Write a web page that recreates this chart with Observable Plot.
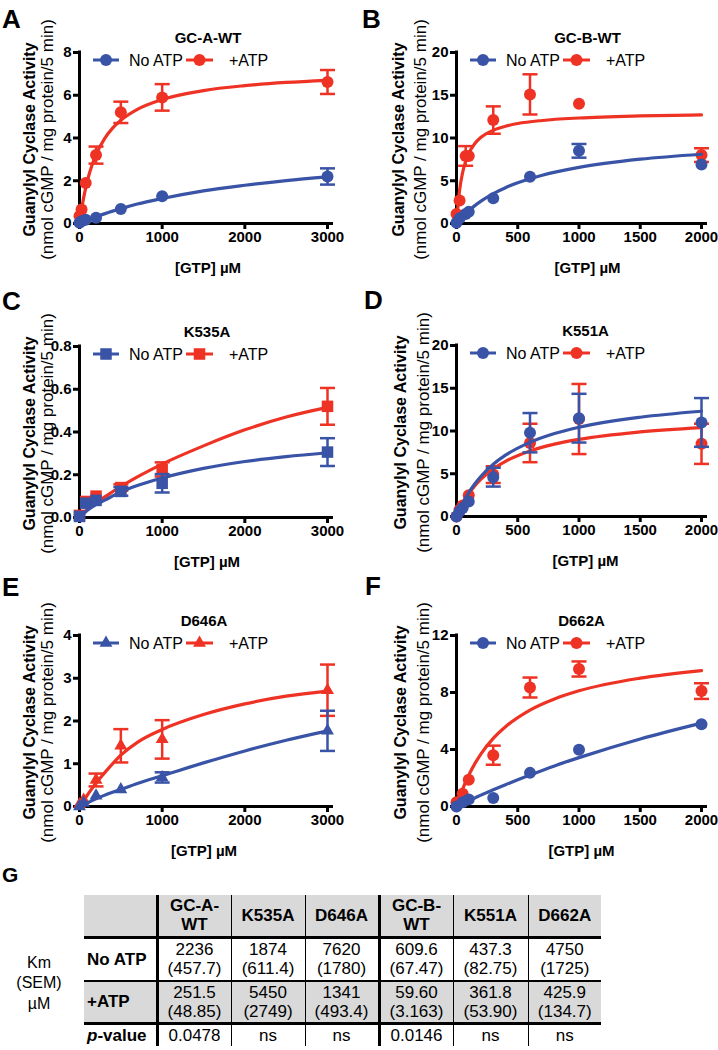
<!DOCTYPE html>
<html><head><meta charset="utf-8">
<script src="https://cdn.jsdelivr.net/npm/d3@7"></script>
<script src="https://cdn.jsdelivr.net/npm/@observablehq/plot@0.6"></script>
<style>
body{margin:0;background:#fff;}
#root{position:relative;width:718px;height:1050px;overflow:hidden;font-family:"Liberation Sans",Arial,Helvetica,sans-serif;background:#fff;}
.panel{position:absolute;}
.panel svg{overflow:visible;}
#tbl{position:absolute;left:84px;top:895px;border-collapse:collapse;table-layout:fixed;font-family:"Liberation Sans",Arial,sans-serif;font-size:17px;color:#000;}
#tbl td{padding:0;text-align:center;vertical-align:middle;line-height:19px;box-sizing:border-box;white-space:nowrap;}
</style></head><body><div id="root"></div>
<script>
const BLUE = "#3953a6", RED = "#ee3224";

// ---------- Panel A: GC-A-WT ----------
const A_x = [0, 25, 75, 200, 500, 1000, 3000];
const A_noATP = [0.03, 0.1, 0.18, 0.27, 0.68, 1.27, 2.2];
const A_noATP_sem = [0, 0, 0, 0, 0, 0, 0.38];
const A_ATP = [0.35, 0.65, 1.9, 3.2, 5.2, 5.9, 6.62];
const A_ATP_sem = [0, 0, 0, 0.4, 0.5, 0.62, 0.56];
const A_fitX = [0, 25, 50, 100, 150, 200, 300, 400, 500, 700, 1000, 1500, 2000, 2500, 3000];
const A_fitNoATP = [0, 0.04, 0.08, 0.16, 0.24, 0.31, 0.45, 0.58, 0.69, 0.91, 1.17, 1.53, 1.79, 2.01, 2.18];
const A_fitATP = [0, 0.66, 1.20, 2.07, 2.71, 3.22, 3.95, 4.46, 4.83, 5.34, 5.80, 6.22, 6.45, 6.60, 6.70];

// ---------- Panel B: GC-B-WT ----------
const B_x = [0, 25, 75, 100, 300, 600, 1000, 2000];
const B_noATP = [0.1, 0.6, 1.1, 1.36, 2.96, 5.46, 8.5, 6.9];
const B_noATP_sem = [0, 0, 0, 0, 0, 0, 0.8, 0];
const B_ATP = [1.1, 2.7, 7.9, 7.9, 12.1, 15.1, 14.0, 8.0];
const B_ATP_sem = [0, 0, 1.15, 0, 1.6, 2.35, 0, 0.8];
const B_fitX = [0, 25, 50, 75, 100, 150, 200, 300, 400, 500, 700, 1000, 1500, 2000];
const B_fitNoATP = [0, 0.42, 0.80, 1.16, 1.49, 2.09, 2.61, 3.49, 4.19, 4.76, 5.65, 6.57, 7.52, 8.10];
const B_fitATP = [0, 3.87, 5.97, 7.29, 8.20, 9.36, 10.08, 10.91, 11.38, 11.69, 12.05, 12.34, 12.58, 12.70];

// ---------- Panel C: K535A ----------
const C_x = [0, 75, 200, 500, 1000, 3000];
const C_noATP = [0.005, 0.067, 0.08, 0.122, 0.16, 0.306];
const C_noATP_sem = [0, 0, 0, 0.02, 0.043, 0.065];
const C_ATP = [0.01, 0.075, 0.10, 0.14, 0.225, 0.52];
const C_ATP_sem = [0, 0, 0, 0.015, 0.033, 0.086];
const C_fitX = [0, 100, 200, 300, 500, 700, 1000, 1500, 2000, 2500, 3000];
const C_fitNoATP = [0, 0.035, 0.06, 0.08, 0.12, 0.15, 0.185, 0.23, 0.262, 0.285, 0.303];
const C_fitATP = [0, 0.04, 0.07, 0.095, 0.145, 0.19, 0.25, 0.335, 0.41, 0.47, 0.515];

// ---------- Panel D: K551A ----------
const D_x = [0, 25, 50, 100, 300, 600, 1000, 2000];
const D_noATP = [0, 0.6, 1.0, 1.76, 4.6, 9.8, 11.5, 11.0];
const D_noATP_sem = [0, 0, 0, 0, 1.1, 2.3, 2.85, 2.85];
const D_ATP = [0, 0.8, 1.3, 2.5, 4.9, 8.6, 11.4, 8.5];
const D_ATP_sem = [0, 0, 0, 0, 0.98, 2.25, 4.1, 2.35];
const D_fitX = [0, 25, 50, 100, 150, 200, 300, 400, 600, 800, 1000, 1500, 2000];
const D_fitNoATP = [0, 0.81, 1.54, 2.79, 3.83, 4.71, 6.11, 7.17, 8.67, 9.70, 10.44, 11.61, 12.31];
const D_fitATP = [0, 0.79, 1.49, 2.66, 3.60, 4.37, 5.57, 6.45, 7.66, 8.46, 9.02, 9.89, 10.40];

// ---------- Panel E: D646A ----------
const E_x = [0, 50, 200, 500, 1000, 3000];
const E_noATP = [0, 0.08, 0.25, 0.4, 0.68, 1.77];
const E_noATP_sem = [0, 0, 0, 0, 0.12, 0.47];
const E_ATP = [0.05, 0.15, 0.62, 1.42, 1.57, 2.72];
const E_ATP_sem = [0, 0, 0.15, 0.39, 0.45, 0.6];
const E_fitX = [0, 100, 200, 300, 500, 700, 1000, 1500, 2000, 2500, 3000];
const E_fitNoATP = [0, 0.09, 0.18, 0.26, 0.4, 0.54, 0.72, 1.02, 1.3, 1.55, 1.77];
const E_fitATP = [0, 0.28, 0.55, 0.78, 1.2, 1.5, 1.8, 2.15, 2.4, 2.58, 2.7];

// ---------- Panel F: D662A ----------
const F_x = [0, 50, 100, 300, 600, 1000, 2000];
const F_noATP = [0, 0.3, 0.5, 0.6, 2.36, 3.98, 5.78];
const F_noATP_sem = [0, 0, 0, 0, 0, 0, 0];
const F_ATP = [0.3, 0.9, 1.87, 3.6, 8.35, 9.65, 8.1];
const F_ATP_sem = [0, 0, 0, 0.67, 0.7, 0.53, 0.55];
const F_fitX = [0, 25, 50, 100, 150, 200, 300, 400, 600, 800, 1000, 1500, 2000];
const F_fitNoATP = [0, 0.10, 0.21, 0.41, 0.60, 0.80, 1.17, 1.53, 2.21, 2.85, 3.43, 4.74, 5.85];
const F_fitATP = [0, 0.64, 1.22, 2.20, 3.01, 3.70, 4.78, 5.60, 6.77, 7.55, 8.12, 9.01, 9.54];

// ---------- Table G ----------
const tableCols = [["GC-A-", "WT"], ["K535A"], ["D646A"], ["GC-B-", "WT"], ["K551A"], ["D662A"]];
const Km_noATP = ["2236", "1874", "7620", "609.6", "437.3", "4750"];
const SEM_noATP = ["457.7", "611.4", "1780", "67.47", "82.75", "1725"];
const Km_ATP = ["251.5", "5450", "1341", "59.60", "361.8", "425.9"];
const SEM_ATP = ["48.85", "2749", "493.4", "3.163", "53.90", "134.7"];
const pValues = ["0.0478", "ns", "ns", "0.0146", "ns", "ns"];

const seriesNames = ["No ATP", "+ATP"];
const yTitle = "Guanylyl Cyclase Activity";
const yUnits = "(nmol cGMP / mg protein/5 min)";
const xTitle = "[GTP] \u00b5M";

const FONT = '"Liberation Sans", Arial, Helvetica, sans-serif';
const capSymbol = {draw(ctx, size) { const w = Math.sqrt(size / Math.PI); ctx.moveTo(-w, 0); ctx.lineTo(w, 0); }};
const PH = 292, PLOT_H = 171;

const panels = [
  {letter: "A", title: "GC-A-WT", left: 0, top: 0, width: 359, ml: 79, mr: 32, mt: 52, xDomain: [0, 3000], xTicks: [0, 1000, 2000, 3000], yDomain: [0, 8], yTicks: [0, 2, 4, 6, 8], fmt: d => String(d), symbol: "circle", r: 6, x: A_x, no: A_noATP, noE: A_noATP_sem, atp: A_ATP, atpE: A_ATP_sem, fx: A_fitX, fno: A_fitNoATP, fatp: A_fitATP, lab: [29, 47], dx: 5},
  {letter: "B", title: "GC-B-WT", left: 358, top: 0, width: 360, ml: 98, mr: 17, mt: 52, xDomain: [0, 2000], xTicks: [0, 500, 1000, 1500, 2000], yDomain: [0, 20], yTicks: [0, 5, 10, 15, 20], fmt: d => String(d), symbol: "circle", r: 6, x: B_x, no: B_noATP, noE: B_noATP_sem, atp: B_ATP, atpE: B_ATP_sem, fx: B_fitX, fno: B_fitNoATP, fatp: B_fitATP, lab: [40, 62], dx: 9},
  {letter: "C", title: "K535A", left: 0, top: 293, width: 359, ml: 79, mr: 32, mt: 53, xDomain: [0, 3000], xTicks: [0, 1000, 2000, 3000], yDomain: [0, 0.8], yTicks: [0, 0.2, 0.4, 0.6, 0.8], fmt: d3.format(".1f"), symbol: "square", r: 6.5, x: C_x, no: C_noATP, noE: C_noATP_sem, atp: C_ATP, atpE: C_ATP_sem, fx: C_fitX, fno: C_fitNoATP, fatp: C_fitATP, lab: [29, 47], dx: 4},
  {letter: "D", title: "K551A", left: 358, top: 293, width: 360, ml: 98, mr: 17, mt: 52, xDomain: [0, 2000], xTicks: [0, 500, 1000, 1500, 2000], yDomain: [0, 20], yTicks: [0, 5, 10, 15, 20], fmt: d => String(d), symbol: "circle", r: 6, x: D_x, no: D_noATP, noE: D_noATP_sem, atp: D_ATP, atpE: D_ATP_sem, fx: D_fitX, fno: D_fitNoATP, fatp: D_fitATP, lab: [42, 65], dx: 7},
  {letter: "E", title: "D646A", left: 0, top: 584, width: 359, ml: 79, mr: 32, mt: 51, xDomain: [0, 3000], xTicks: [0, 1000, 2000, 3000], yDomain: [0, 4], yTicks: [0, 1, 2, 3, 4], fmt: d => String(d), symbol: "triangle", r: 4.8, x: E_x, no: E_noATP, noE: E_noATP_sem, atp: E_ATP, atpE: E_ATP_sem, fx: E_fitX, fno: E_fitNoATP, fatp: E_fitATP, lab: [29, 47], dx: 1},
  {letter: "F", title: "D662A", left: 358, top: 584, width: 360, ml: 98, mr: 17, mt: 51, xDomain: [0, 2000], xTicks: [0, 500, 1000, 1500, 2000], yDomain: [0, 12], yTicks: [0, 4, 8, 12], fmt: d => String(d), symbol: "circle", r: 6, x: F_x, no: F_noATP, noE: F_noATP_sem, atp: F_ATP, atpE: F_ATP_sem, fx: F_fitX, fno: F_fitNoATP, fatp: F_fitATP, lab: [42, 65], dx: 3}
];

const root = document.getElementById("root");

function seriesMarks(xs, ys, es, color, cfg) {
  const pts = xs.map((x, i) => ({x, y: ys[i], e: es[i]}));
  const errs = pts.filter(d => d.e > 0);
  const caps = errs.flatMap(d => [{x: d.x, y: d.y - d.e}, {x: d.x, y: d.y + d.e}]);
  return [
    Plot.ruleX(errs, {x: "x", y1: d => d.y - d.e, y2: d => d.y + d.e, stroke: color, strokeWidth: 2.5}),
    Plot.dot(caps, {x: "x", y: "y", symbol: capSymbol, r: 7.5, stroke: color, strokeWidth: 2.5, fill: "none"}),
    Plot.dot(pts, {x: "x", y: "y", symbol: cfg.symbol, r: cfg.r, fill: color, stroke: "none"})
  ];
}

for (const cfg of panels) {
  const fitNo = cfg.fx.map((x, i) => ({x, y: cfg.fno[i]}));
  const fitAtp = cfg.fx.map((x, i) => ({x, y: cfg.fatp[i]}));
  const svg = Plot.plot({
    width: cfg.width, height: PH,
    marginLeft: cfg.ml, marginRight: cfg.mr, marginTop: cfg.mt, marginBottom: PH - cfg.mt - PLOT_H,
    x: {domain: cfg.xDomain},
    y: {domain: cfg.yDomain},
    style: {fontFamily: FONT, fontSize: "15px", fontWeight: "bold", background: "transparent", overflow: "visible", color: "black"},
    marks: [
      Plot.axisX({ticks: cfg.xTicks, tickFormat: d => String(d), tickSize: 6, tickPadding: 2, strokeWidth: 3, label: null}),
      Plot.axisY({ticks: cfg.yTicks, tickFormat: cfg.fmt, tickSize: 6, tickPadding: 2, strokeWidth: 3, label: null}),
      Plot.ruleY([0], {stroke: "black", strokeWidth: 3, insetLeft: -6, insetRight: -6}),
      Plot.ruleX([0], {stroke: "black", strokeWidth: 3, insetTop: -1.5}),
      Plot.line(fitAtp, {x: "x", y: "y", stroke: RED, strokeWidth: 3.2, curve: "monotone-x"}),
      ...seriesMarks(cfg.x, cfg.atp, cfg.atpE, RED, cfg),
      Plot.line(fitNo, {x: "x", y: "y", stroke: BLUE, strokeWidth: 3.2, curve: "monotone-x"}),
      ...seriesMarks(cfg.x, cfg.no, cfg.noE, BLUE, cfg)
    ]
  });
  const s = d3.select(svg);
  const top = cfg.mt, zero = cfg.mt + PLOT_H, ax = cfg.ml;
  const cx = (cfg.ml + cfg.width - cfg.mr) / 2 + cfg.dx;
  s.append("text").attr("x", cx).attr("y", top - 15).attr("text-anchor", "middle").attr("dominant-baseline", "central")
    .style("font", `bold 15px ${FONT}`).text(cfg.title);
  s.append("text").attr("x", cx).attr("y", zero + 44).attr("text-anchor", "middle").attr("dominant-baseline", "central")
    .style("font", `bold 15px ${FONT}`).text(xTitle);
  const cy = (top + zero) / 2 + 2;
  s.append("text").attr("transform", `translate(${cfg.lab[0]},${cy}) rotate(-90)`).attr("text-anchor", "middle").attr("dominant-baseline", "central")
    .style("font", `bold 16px ${FONT}`).text(yTitle);
  s.append("text").attr("transform", `translate(${cfg.lab[1]},${cy}) rotate(-90)`).attr("text-anchor", "middle").attr("dominant-baseline", "central")
    .style("font", `normal 17px ${FONT}`).text(yUnits);
  // legend
  const ly = top + 8;
  const items = [{name: seriesNames[0], color: BLUE, x0: ax + 14, x1: ax + 40, tx: ax + 50},
                 {name: seriesNames[1], color: RED, x0: ax + 107, x1: ax + 134, tx: ax + 150}];
  const symMap = {circle: d3.symbolCircle, square: d3.symbolSquare, triangle: d3.symbolTriangle};
  const g = s.append("g");
  for (const it of items) {
    g.append("line").attr("x1", it.x0).attr("x2", it.x1).attr("y1", ly).attr("y2", ly).attr("stroke", it.color).attr("stroke-width", 3);
    g.append("path").attr("transform", `translate(${(it.x0 + it.x1) / 2},${ly})`).attr("d", d3.symbol(symMap[cfg.symbol], Math.PI * cfg.r * cfg.r)()).attr("fill", it.color);
    g.append("text").attr("x", it.tx).attr("y", ly).attr("text-anchor", "start").attr("dominant-baseline", "central")
      .style("font", `normal 16px ${FONT}`).attr("fill", "black").text(it.name);
  }
  const div = document.createElement("div");
  div.className = "panel";
  div.style.left = cfg.left + "px"; div.style.top = cfg.top + "px"; div.style.width = cfg.width + "px"; div.style.height = PH + "px";
  div.appendChild(svg);
  root.appendChild(div);
}

// ---------- Table ----------
const GRAY = "#d9d9d9";
const colW = [73, 74, 74, 74, 74, 75, 73];
const tbl = document.createElement("table");
tbl.id = "tbl";
const cg = document.createElement("colgroup");
colW.forEach(w => { const c = document.createElement("col"); c.style.width = w + "px"; cg.appendChild(c); });
tbl.appendChild(cg);
function vBorder(j) { return j === 0 ? "none" : ((j === 1 || j === 4) ? "3px solid #000" : "1.5px solid #000"); }
const rows = [
  {h: 42, bg: GRAY, label: "", cells: tableCols.map(c => c.join("<br>")), bold: true, bt: "none"},
  {h: 44, bg: "#fff", label: "No ATP", cells: Km_noATP.map((v, i) => `${v}<br>(${SEM_noATP[i]})`), bold: false, bt: "3px solid #000"},
  {h: 42, bg: GRAY, label: "+ATP", cells: Km_ATP.map((v, i) => `${v}<br>(${SEM_ATP[i]})`), bold: false, bt: "2px solid #000"},
  {h: 23, bg: "#fff", label: "<i>p</i>-value", cells: pValues, bold: false, bt: "3px solid #000"}
];
for (const r of rows) {
  const tr = document.createElement("tr");
  [r.label, ...r.cells].forEach((html, j) => {
    const td = document.createElement("td");
    td.innerHTML = html;
    td.style.height = r.h + "px";
    td.style.background = r.bg;
    td.style.borderLeft = vBorder(j);
    td.style.borderTop = r.bt;
    if (j === 0) { td.style.textAlign = "left"; td.style.paddingLeft = "3px"; td.style.fontWeight = "bold"; td.style.fontSize = "17px"; }
    else if (r.bold) { td.style.fontWeight = "bold"; td.style.fontSize = "17px"; }
    tr.appendChild(td);
  });
  tbl.appendChild(tr);
}
root.appendChild(tbl);

// ---------- Overlay: panel letters and table side label ----------
const ov = d3.select(root).append("svg").attr("width", 718).attr("height", 1050)
  .style("position", "absolute").style("left", 0).style("top", 0).style("pointer-events", "none");
const letters = [["A", 2, 28], ["B", 362, 28], ["C", 2, 310], ["D", 364, 309], ["E", 2, 596], ["F", 365, 595]];
for (const [t, x, y] of letters) ov.append("text").attr("x", x).attr("y", y).style("font", `bold 26px ${FONT}`).text(t);
ov.append("text").attr("x", 2).attr("y", 882).style("font", `bold 21px ${FONT}`).text("G");
const kmLines = ["Km", "(SEM)", "\u00b5M"];
kmLines.forEach((t, i) => ov.append("text").attr("x", 39).attr("y", 962 + i * 20.5).attr("text-anchor", "middle")
  .attr("dominant-baseline", "central").style("font", `normal 16px ${FONT}`).text(t));
</script>
</body></html>
